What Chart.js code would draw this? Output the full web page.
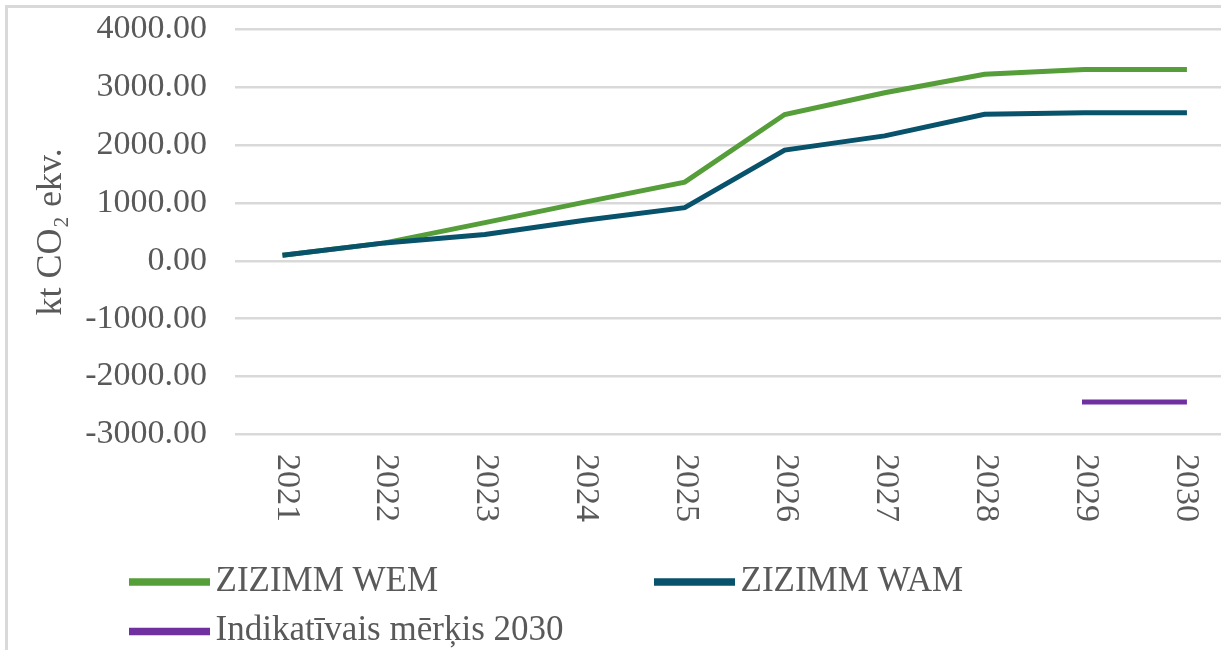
<!DOCTYPE html>
<html>
<head>
<meta charset="utf-8">
<script src="https://cdn.jsdelivr.net/npm/chart.js@4/dist/chart.umd.min.js"></script>
<style>
  html, body { margin: 0; padding: 0; background: #fff; overflow: hidden; }
  #wrap { position: relative; width: 1240px; height: 650px; }
</style>
</head>
<body>
<div id="wrap"><canvas id="c" width="1240" height="650"></canvas></div>
<script>
// ---- data ----
const years = ['2021', '2022', '2023', '2024', '2025', '2026', '2027', '2028', '2029', '2030'];
const wemValues = [100, 310, 660, 1015, 1360, 2530, 2905, 3225, 3310, 3310];
const wamValues = [100, 310, 455, 700, 920, 1915, 2160, 2535, 2560, 2560];
const targetValues = [null, null, null, null, null, null, null, null, -2440, -2440];
const seriesNames = ['ZIZIMM WEM', 'ZIZIMM WAM', 'Indikatīvais mērķis 2030'];
const yAxisTitle = 'kt CO₂ ekv.';

const FONT = '"Liberation Serif", "Times New Roman", serif';
const TXT = '#595959';

const framePlugin = {
  id: 'frame',
  beforeDraw(chart) {
    const ctx = chart.ctx;
    ctx.save();
    ctx.strokeStyle = '#d9d9d9';
    ctx.lineWidth = 3;
    ctx.strokeRect(6.5, 6.5, 3000, 3000);
    ctx.restore();
  }
};

const xLabelPlugin = {
  id: 'xLabels',
  afterDraw(chart) {
    const xs = chart.scales.x;
    const ctx = chart.ctx;
    ctx.save();
    ctx.font = '34px ' + FONT;
    ctx.fillStyle = TXT;
    ctx.textAlign = 'left';
    ctx.textBaseline = 'middle';
    chart.data.labels.forEach((lab, i) => {
      const x = xs.getPixelForValue(i);
      ctx.save();
      ctx.translate(x + 1.5, 454);
      ctx.rotate(Math.PI / 2);
      ctx.fillText(lab, 0, 0);
      ctx.restore();
    });
    ctx.restore();
  }
};

const legendPlugin = {
  id: 'customLegend',
  afterDraw(chart) {
    const ctx = chart.ctx;
    const pos = [[129, 582], [654, 582], [129, 631.5]];
    ctx.save();
    ctx.font = '35px ' + FONT;
    ctx.textAlign = 'left';
    ctx.textBaseline = 'middle';
    chart.data.datasets.forEach((ds, i) => {
      const [x, y] = pos[i];
      ctx.fillStyle = ds.borderColor;
      ctx.fillRect(x, y - 3.75, 81, 7.5);
      ctx.fillStyle = TXT;
      ctx.fillText(ds.label, x + 86.5, y - 0.5);
    });
    ctx.restore();
  }
};

new Chart(document.getElementById('c'), {
  type: 'line',
  data: {
    labels: years,
    datasets: [
      { label: seriesNames[0], data: wemValues, borderColor: '#559E39', backgroundColor: '#559E39', order: 2 },
      { label: seriesNames[1], data: wamValues, borderColor: '#08526B', backgroundColor: '#08526B', order: 1 },
      { label: seriesNames[2], data: targetValues, borderColor: '#7030A0', backgroundColor: '#7030A0', order: 0 }
    ]
  },
  options: {
    responsive: false,
    animation: false,
    devicePixelRatio: 1,
    layout: { padding: { top: 29.5, right: 5.6, bottom: 0, left: 0 } },
    elements: {
      line: { borderWidth: 5, tension: 0, borderCapStyle: 'square', fill: false },
      point: { radius: 0, hoverRadius: 0 }
    },
    plugins: {
      legend: { display: false },
      tooltip: { enabled: false },
      title: { display: false }
    },
    scales: {
      x: {
        offset: true,
        grid: { display: false, drawTicks: false },
        border: { display: false },
        ticks: { display: false },
        afterFit(scale) { scale.height = 650 - 434.3; }
      },
      y: {
        min: -3000,
        max: 4000,
        grid: { color: '#d9d9d9', lineWidth: 2.5, drawTicks: true, tickLength: 25, tickColor: 'rgba(0,0,0,0)' },
        border: { display: false },
        ticks: {
          stepSize: 1000,
          padding: 3,
          color: TXT,
          font: { family: FONT, size: 34 },
          callback: v => Number(v).toFixed(2)
        },
        title: {
          display: true,
          text: yAxisTitle,
          color: TXT,
          font: { family: FONT, size: 36 },
          padding: { top: 30, bottom: 0 }
        },
        afterFit(scale) { scale.width = 235; }
      }
    }
  },
  plugins: [framePlugin, xLabelPlugin, legendPlugin]
});
</script>
</body>
</html>
